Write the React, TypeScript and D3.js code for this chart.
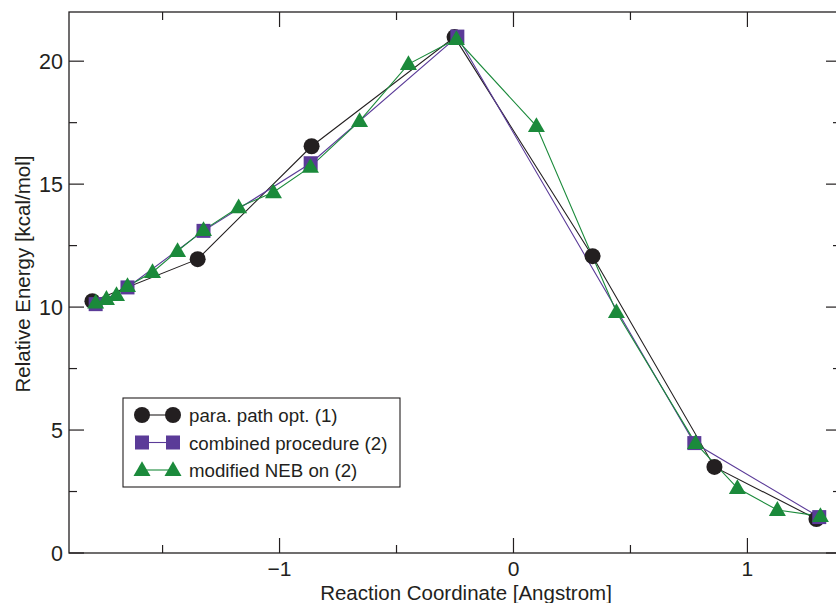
import React from "react";
import * as d3 from "d3";

const paraX = [-1.80, -1.35, -0.863, -0.252, 0.338, 0.859, 1.295];
const paraY = [10.24, 11.95, 16.54, 20.98, 12.07, 3.50, 1.38];

const combX = [-1.786, -1.65, -1.325, -0.867, -0.24, 0.773, 1.307];
const combY = [10.12, 10.8, 13.1, 15.85, 21.0, 4.47, 1.46];

const nebX = [-1.786, -1.74, -1.697, -1.65, -1.543, -1.436, -1.325, -1.175, -1.026, -0.868, -0.658, -0.449, -0.244, 0.098, 0.44, 0.778, 0.957, 1.128, 1.312];
const nebY = [10.18, 10.33, 10.49, 10.85, 11.42, 12.28, 13.13, 14.06, 14.67, 15.7, 17.56, 19.88, 20.9, 17.36, 9.8, 4.47, 2.64, 1.75, 1.5];

const xMajor = [-1, 0, 1];
const xMinor = [-1.5, -0.5, 0.5];
const yMajor = [0, 5, 10, 15, 20];
const yMinor = [2.5, 7.5, 12.5, 17.5];

const legendLabels = ["para. path opt. (1)", "combined procedure (2)", "modified NEB on (2)"];

const BLACK = "#231f20";
const PURPLE = "#5b3b98";
const GREEN = "#1b8a3b";

const W = 836, H = 603;
const L = 69, R = 841, T = 12, B = 553;

const x = d3.scaleLinear().domain([-1.9, 1.4]).range([L, R]);
const y = d3.scaleLinear().domain([0, 22]).range([B, T]);

const line = d3.line<[number, number]>().x(d => x(d[0])).y(d => y(d[1]));
const zip = (a: number[], b: number[]) => a.map((v, i) => [v, b[i]] as [number, number]);

const tri = (cx: number, cy: number, s: number) => {
  const h = s * 0.87;
  return `M${cx},${cy - h * 0.6}L${cx + s / 2},${cy + h * 0.4}L${cx - s / 2},${cy + h * 0.4}Z`;
};

const fmt = (v: number) => (v < 0 ? "\u2212" + Math.abs(v) : String(v));

export default function App() {
  const font = "'Liberation Sans', Arial, sans-serif";
  const para = zip(paraX, paraY);
  const comb = zip(combX, combY);
  const neb = zip(nebX, nebY);
  return (
    <svg width={W} height={H} style={{ position: "absolute", left: 0, top: 0 }} fontFamily={font}>
      <rect width={W} height={H} fill="#fff" />
      {/* lines */}
      <path d={line(para) || ""} fill="none" stroke={BLACK} strokeWidth={1.1} />
      <path d={line(comb) || ""} fill="none" stroke={PURPLE} strokeWidth={1.1} />
      <path d={line(neb) || ""} fill="none" stroke={GREEN} strokeWidth={1.1} />
      {/* markers */}
      {para.map((d, i) => <circle key={"p" + i} cx={x(d[0])} cy={y(d[1])} r={8} fill={BLACK} />)}
      {comb.map((d, i) => <rect key={"c" + i} x={x(d[0]) - 7} y={y(d[1]) - 7} width={14} height={14} fill={PURPLE} />)}
      {neb.map((d, i) => <path key={"n" + i} d={tri(x(d[0]), y(d[1]), 17)} fill={GREEN} />)}
      {/* frame */}
      <rect x={L} y={T} width={R - L} height={B - T} fill="none" stroke={BLACK} strokeWidth={1.3} />
      {/* x ticks */}
      {xMajor.map(v => (
        <g key={"xm" + v}>
          <line x1={x(v)} x2={x(v)} y1={B} y2={B - 15} stroke={BLACK} strokeWidth={1.2} />
          <line x1={x(v)} x2={x(v)} y1={T} y2={T + 15} stroke={BLACK} strokeWidth={1.2} />
          <text x={x(v)} y={576} fontSize={21} textAnchor="middle" fill={BLACK}>{fmt(v)}</text>
        </g>
      ))}
      {xMinor.map(v => (
        <g key={"xn" + v}>
          <line x1={x(v)} x2={x(v)} y1={B} y2={B - 8} stroke={BLACK} strokeWidth={1.2} />
          <line x1={x(v)} x2={x(v)} y1={T} y2={T + 8} stroke={BLACK} strokeWidth={1.2} />
        </g>
      ))}
      {/* y ticks */}
      {yMajor.map(v => (
        <g key={"ym" + v}>
          <line x1={L} x2={L + 15} y1={y(v)} y2={y(v)} stroke={BLACK} strokeWidth={1.2} />
          <line x1={R} x2={R - 15} y1={y(v)} y2={y(v)} stroke={BLACK} strokeWidth={1.2} />
          <text x={63} y={y(v) + 8} fontSize={21.5} textAnchor="end" fill={BLACK}>{v}</text>
        </g>
      ))}
      {yMinor.map(v => (
        <g key={"yn" + v}>
          <line x1={L} x2={L + 8} y1={y(v)} y2={y(v)} stroke={BLACK} strokeWidth={1.2} />
          <line x1={R} x2={R - 8} y1={y(v)} y2={y(v)} stroke={BLACK} strokeWidth={1.2} />
        </g>
      ))}
      {/* axis labels */}
      <text x={466} y={600} fontSize={20.5} textAnchor="middle" fill={BLACK}>Reaction Coordinate [Angstrom]</text>
      <text transform={`translate(30,274) rotate(-90)`} fontSize={20.5} textAnchor="middle" fill={BLACK}>Relative Energy [kcal/mol]</text>
      {/* legend */}
      <rect x={123} y={398} width={277} height={89} fill="#fff" stroke={BLACK} strokeWidth={1.1} />
      {legendLabels.map((lab, i) => {
        const ly = 415 + i * 27.5;
        const col = [BLACK, PURPLE, GREEN][i];
        return (
          <g key={"lg" + i}>
            <line x1={142} x2={173} y1={ly} y2={ly} stroke={col} strokeWidth={1.1} />
            {i === 0 && [142, 173].map(cx => <circle key={cx} cx={cx} cy={ly} r={8} fill={col} />)}
            {i === 1 && [142, 173].map(cx => <rect key={cx} x={cx - 7} y={ly - 7} width={14} height={14} fill={col} />)}
            {i === 2 && [142, 173].map(cx => <path key={cx} d={tri(cx, ly, 17)} fill={col} />)}
            <text x={189} y={ly + 7} fontSize={18.7} fill={BLACK}>{lab}</text>
          </g>
        );
      })}
    </svg>
  );
}
